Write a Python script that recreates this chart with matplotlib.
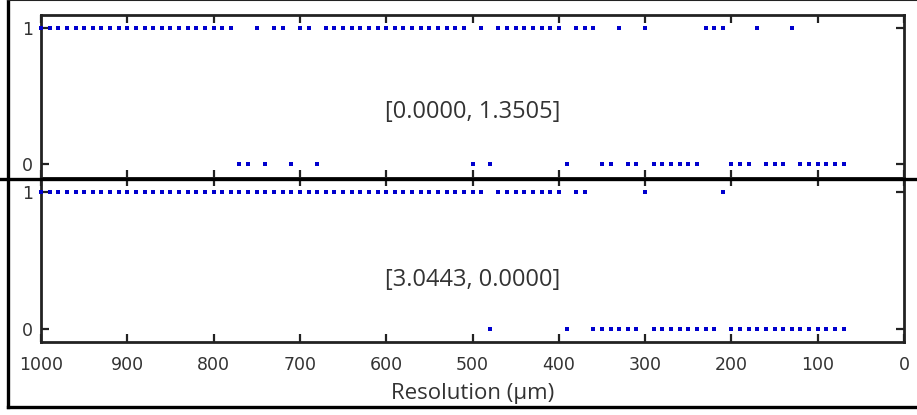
import numpy as np
import matplotlib
matplotlib.use("Agg")
import matplotlib.pyplot as plt
from matplotlib.lines import Line2D

# ---- data ----
resolution = list(range(1000, 60, -10))  # 1000 ... 70 um

top_ones = (list(range(1000, 770, -10)) + [750, 730, 720, 700, 690]
            + list(range(670, 500, -10)) + [490]
            + list(range(470, 390, -10)) + [380, 370, 360, 330, 300,
                                             230, 220, 210, 170, 130])
bottom_ones = (list(range(1000, 480, -10)) + list(range(470, 390, -10))
               + [380, 370, 300, 210])

top_values = [1 if r in top_ones else 0 for r in resolution]
bottom_values = [1 if r in bottom_ones else 0 for r in resolution]

top_text = "[0.0000, 1.3505]"
bottom_text = "[3.0443, 0.0000]"
xticks = list(range(0, 1001, 100))
yticks = [0, 1]

W, H = 917, 415
fig = plt.figure(figsize=(W / 100, H / 100), dpi=100)

def fx(px):
    return px / W

def fy(py):
    return 1 - py / H

left, right = 41, 904
panels = [(14.5, 178, top_values, top_text, False, 0.405),
          (178, 342.3, bottom_values, bottom_text, True, 0.38)]

tick_color = "#333333"
blue = "#0000CD"

for (ptop, pbot, vals, txt, show_x, ty) in panels:
    ax = fig.add_axes([fx(left), fy(pbot), fx(right - left), (pbot - ptop) / H])
    ax.plot(resolution, vals, linestyle="none", marker="s", markersize=3.5,
            color=blue, markeredgewidth=0, clip_on=False, zorder=3)
    ax.set_xlim(1000, 0)
    ax.set_ylim(-0.1, 1.1)
    ax.set_xticks(xticks)
    ax.set_yticks(yticks)
    ax.tick_params(direction="in", length=6, width=1.6, color="#222222",
                   top=True, right=True, labelsize=12.5, labelcolor=tick_color)
    ax.tick_params(axis="x", pad=10)
    ax.tick_params(axis="y", pad=5.5)
    for s in ax.spines.values():
        s.set_linewidth(2)
        s.set_color("#222222")
    if show_x:
        ax.set_xlabel("Resolution (μm)", fontsize=16, family="Open Sans",
                      color=tick_color, labelpad=6)
    else:
        ax.tick_params(axis="x", labelbottom=False)
    ax.text(0.5, ty, txt, transform=ax.transAxes, ha="center", va="center",
            fontsize=17, family="Open Sans", color=tick_color)

# separator line and outer frame
fig.add_artist(Line2D([0, 1], [fy(178.5), fy(178.5)], transform=fig.transFigure,
                      color="black", linewidth=2.4))
fig.add_artist(Line2D([fx(8), fx(8)], [fy(0.5), fy(406.5)], transform=fig.transFigure,
                      color="black", linewidth=2.4))
fig.add_artist(Line2D([fx(8), 1], [fy(406.5), fy(406.5)], transform=fig.transFigure,
                      color="black", linewidth=2.4))
fig.add_artist(Line2D([fx(8), 1], [fy(0.5), fy(0.5)], transform=fig.transFigure,
                      color="#222222", linewidth=1.5))

fig.savefig("out.png", dpi=100)
